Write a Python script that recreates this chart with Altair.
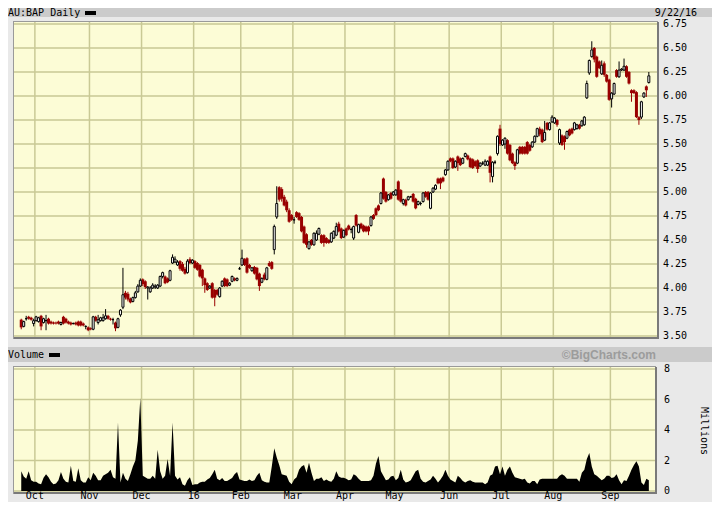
import altair as alt
import pandas as pd

# ---------------- data ----------------
# daily candles per month: (open, high, low, close)
ohlc_2015_09 = [(3.67,3.68,3.57,3.59),(3.60,3.66,3.59,3.65),(3.68,3.71,3.66,3.68),(3.70,3.71,3.67,3.68),
                (3.69,3.70,3.66,3.67),(3.63,3.68,3.60,3.66)]
ohlc_2015_10 = [(3.66,3.71,3.65,3.70),(3.65,3.70,3.64,3.69),(3.71,3.72,3.56,3.60),(3.64,3.69,3.63,3.68),
                (3.66,3.72,3.56,3.66),(3.68,3.69,3.62,3.63),(3.65,3.66,3.62,3.63),(3.64,3.65,3.62,3.63),
                (3.64,3.65,3.62,3.63),(3.65,3.66,3.62,3.63),(3.62,3.65,3.61,3.64),(3.70,3.71,3.62,3.63),
                (3.68,3.69,3.63,3.64),(3.65,3.66,3.62,3.63),(3.64,3.65,3.61,3.62),(3.63,3.64,3.62,3.63),
                (3.64,3.65,3.61,3.62),(3.65,3.66,3.60,3.61),(3.65,3.66,3.60,3.61),(3.63,3.64,3.60,3.61),
                (3.60,3.61,3.57,3.60),(3.59,3.60,3.55,3.56)]
ohlc_2015_11 = [(3.58,3.59,3.56,3.57),(3.57,3.71,3.56,3.70),(3.70,3.71,3.65,3.66),(3.64,3.72,3.62,3.67),
                (3.66,3.70,3.65,3.69),(3.66,3.73,3.65,3.69),(3.68,3.78,3.67,3.71),(3.71,3.72,3.67,3.68),
                (3.68,3.69,3.66,3.67),(3.67,3.69,3.62,3.67),(3.64,3.65,3.55,3.58),(3.59,3.69,3.58,3.68),
                (3.72,3.78,3.70,3.77),(3.80,4.21,3.78,3.93),(3.95,3.97,3.88,3.90),(3.94,3.96,3.86,3.88),
                (3.89,3.90,3.84,3.85),(3.86,3.91,3.85,3.90),(3.90,3.97,3.89,3.95),(3.96,4.04,3.95,4.02),
                (4.02,4.10,4.01,4.08)]
ohlc_2015_12 = [(4.09,4.10,4.02,4.04),(4.07,4.08,3.99,4.01),(4.00,4.02,3.88,4.01),(3.96,4.02,3.95,4.00),
                (4.00,4.05,3.99,4.03),(4.01,4.04,3.99,4.02),(4.00,4.04,3.99,4.03),(4.02,4.13,4.01,4.12),
                (4.12,4.17,4.10,4.16),(4.12,4.13,4.04,4.05),(4.10,4.11,4.05,4.06),(4.08,4.19,4.07,4.18),
                (4.26,4.35,4.25,4.32),(4.27,4.33,4.26,4.30),(4.24,4.29,4.23,4.27),(4.28,4.29,4.18,4.20),
                (4.25,4.27,4.17,4.18),(4.20,4.22,4.14,4.15),(4.16,4.30,4.15,4.28),(4.30,4.32,4.25,4.26),
                (4.26,4.30,4.25,4.29)]
ohlc_2016_01 = [(4.28,4.29,4.20,4.21),(4.26,4.27,4.18,4.19),(4.24,4.25,4.11,4.12),(4.19,4.20,4.02,4.10),
                (4.10,4.11,3.95,4.03),(4.05,4.06,3.97,3.98),(4.00,4.03,3.99,4.02),(4.05,4.06,3.89,3.90),
                (3.98,3.99,3.81,3.90),(3.98,3.99,3.92,3.93),(3.91,4.01,3.90,4.00),(4.02,4.08,4.01,4.07),
                (4.10,4.11,4.01,4.02),(4.09,4.10,4.01,4.02),(4.03,4.06,4.02,4.05),(4.07,4.13,4.06,4.12),
                (4.10,4.11,4.07,4.08),(4.08,4.11,4.07,4.10),(4.20,4.22,4.19,4.20)]
ohlc_2016_02 = [(4.24,4.40,4.23,4.31),(4.30,4.31,4.23,4.24),(4.31,4.32,4.15,4.16),(4.24,4.25,4.20,4.21),
                (4.18,4.22,4.17,4.21),(4.22,4.23,4.14,4.15),(4.21,4.22,4.08,4.09),(4.15,4.16,3.97,4.02),
                (4.06,4.11,4.05,4.10),(4.14,4.16,4.08,4.09),(4.09,4.22,4.08,4.21),(4.26,4.28,4.22,4.23),
                (4.27,4.28,4.19,4.20),(4.40,4.66,4.35,4.64),(4.74,5.06,4.72,4.88),(5.05,5.06,4.90,4.92),
                (5.03,5.05,4.90,4.93),(4.95,4.97,4.85,4.86),(4.90,4.92,4.79,4.81),(4.81,4.83,4.68,4.69),
                (4.76,4.77,4.70,4.71)]
ohlc_2016_03 = [(4.71,4.74,4.67,4.71),(4.79,4.80,4.73,4.74),(4.78,4.79,4.70,4.71),(4.74,4.75,4.58,4.59),
                (4.64,4.65,4.46,4.47),(4.56,4.57,4.42,4.45),(4.41,4.49,4.40,4.48),(4.50,4.51,4.44,4.45),
                (4.45,4.58,4.44,4.57),(4.50,4.60,4.49,4.57),(4.56,4.63,4.55,4.62),(4.55,4.56,4.46,4.47),
                (4.55,4.56,4.43,4.47),(4.52,4.53,4.46,4.47),(4.50,4.51,4.46,4.47),(4.48,4.58,4.47,4.57),
                (4.52,4.60,4.51,4.59),(4.55,4.68,4.54,4.64),(4.67,4.69,4.58,4.59),(4.62,4.63,4.51,4.52),
                (4.53,4.61,4.52,4.60)]
ohlc_2016_04 = [(4.62,4.63,4.54,4.55),(4.65,4.66,4.60,4.61),(4.61,4.63,4.57,4.61),(4.52,4.65,4.50,4.64),
                (4.76,4.77,4.64,4.65),(4.58,4.67,4.57,4.66),(4.67,4.68,4.61,4.62),(4.65,4.66,4.58,4.59),
                (4.64,4.65,4.58,4.59),(4.64,4.65,4.55,4.59),(4.65,4.75,4.64,4.74),(4.76,4.77,4.71,4.72),
                (4.83,4.84,4.75,4.76),(4.86,4.87,4.80,4.81),(4.88,5.00,4.87,4.99),(5.14,5.15,4.92,4.93),
                (5.00,5.01,4.89,4.90),(4.92,4.98,4.91,4.97),(4.99,5.00,4.92,4.93),(4.97,5.01,4.96,5.00)]
ohlc_2016_05 = [(4.97,5.03,4.96,5.02),(5.11,5.12,4.91,4.92),(5.02,5.03,4.89,4.90),(4.88,4.93,4.86,4.92),
                (4.92,4.93,4.85,4.86),(4.92,4.96,4.91,4.95),(4.95,4.96,4.94,4.95),(4.98,4.99,4.89,4.90),
                (4.93,4.94,4.82,4.83),(4.87,4.91,4.86,4.90),(4.88,4.90,4.86,4.88),(4.90,5.00,4.89,4.99),
                (5.00,5.01,4.94,4.95),(5.00,5.01,4.91,4.92),(4.83,5.00,4.82,4.99),(5.00,5.05,4.99,5.04),
                (5.03,5.08,5.02,5.07),(5.14,5.15,5.08,5.09),(5.14,5.15,5.03,5.09),(5.15,5.16,5.10,5.11),
                (5.18,5.24,5.17,5.23),(5.23,5.33,5.22,5.32)]
ohlc_2016_06 = [(5.35,5.36,5.31,5.32),(5.35,5.36,5.24,5.25),(5.26,5.33,5.25,5.32),(5.37,5.38,5.22,5.30),
                (5.35,5.36,5.27,5.28),(5.30,5.36,5.29,5.35),(5.37,5.41,5.36,5.40),(5.38,5.39,5.33,5.34),
                (5.35,5.36,5.25,5.26),(5.34,5.35,5.24,5.25),(5.32,5.33,5.26,5.27),(5.33,5.34,5.20,5.24),
                (5.27,5.31,5.26,5.30),(5.30,5.32,5.28,5.30),(5.28,5.34,5.27,5.32),(5.28,5.33,5.27,5.32),
                (5.37,5.38,5.10,5.20),(5.16,5.32,5.10,5.31),(5.31,5.33,5.29,5.31),(5.40,5.59,5.38,5.58),
                (5.66,5.70,5.48,5.50)]
ohlc_2016_07 = [(5.49,5.55,5.48,5.54),(5.50,5.57,5.45,5.56),(5.54,5.55,5.39,5.40),(5.49,5.50,5.32,5.33),
                (5.40,5.41,5.29,5.30),(5.31,5.32,5.23,5.27),(5.30,5.45,5.29,5.44),(5.47,5.48,5.39,5.40),
                (5.47,5.48,5.39,5.40),(5.47,5.48,5.39,5.40),(5.52,5.53,5.39,5.40),(5.49,5.50,5.42,5.43),
                (5.47,5.53,5.46,5.52),(5.52,5.59,5.51,5.58),(5.58,5.67,5.57,5.66),(5.66,5.68,5.58,5.60),
                (5.65,5.66,5.51,5.52),(5.54,5.74,5.53,5.62),(5.72,5.73,5.64,5.65),(5.65,5.73,5.64,5.72),
                (5.73,5.80,5.72,5.78)]
ohlc_2016_08 = [(5.72,5.78,5.71,5.77),(5.75,5.76,5.68,5.70),(5.51,5.66,5.49,5.65),(5.59,5.60,5.48,5.49),
                (5.58,5.59,5.44,5.52),(5.56,5.64,5.55,5.63),(5.65,5.66,5.58,5.59),(5.66,5.67,5.60,5.61),
                (5.65,5.73,5.64,5.72),(5.66,5.71,5.65,5.70),(5.70,5.71,5.65,5.66),(5.69,5.75,5.68,5.74),
                (5.70,5.79,5.69,5.78),(5.98,6.16,5.97,6.13),(6.24,6.38,6.22,6.37),(6.41,6.57,6.40,6.48),
                (6.50,6.51,6.35,6.38),(6.41,6.42,6.19,6.20),(6.36,6.37,6.28,6.29),(6.23,6.37,6.22,6.32),
                (6.34,6.36,6.20,6.22),(6.22,6.23,6.14,6.15),(6.17,6.18,5.95,5.96)]
ohlc_2016_09 = [(5.97,6.04,5.88,6.03),(6.02,6.14,6.01,6.13),(6.27,6.28,6.19,6.20),(6.20,6.36,6.19,6.27),
                (6.27,6.29,6.26,6.28),(6.27,6.39,6.26,6.31),(6.31,6.32,6.19,6.20),(6.25,6.26,6.12,6.13),
                (6.06,6.07,5.94,6.03),(6.06,6.07,6.02,6.03),(6.04,6.05,5.77,5.78),(5.78,5.79,5.70,5.75),
                (5.78,5.95,5.76,5.94),(5.99,6.04,5.98,6.03),(6.10,6.11,5.99,6.06),(6.14,6.25,6.13,6.21)]

# daily volume per month, millions of shares
vol_2015_09 = [1.30, 0.95, 0.80, 1.30, 0.70, 0.60]
vol_2015_10 = [0.60, 0.50, 0.45, 0.87, 1.10, 0.90, 0.60, 0.45, 0.50, 0.70, 1.25, 0.80, 0.60, 0.55, 1.65,
               0.65, 0.60, 1.50, 0.70, 0.55, 0.55, 0.90]
vol_2015_11 = [0.70, 1.20, 1.00, 0.70, 0.70, 1.00, 1.10, 1.20, 1.40, 0.90, 0.80, 4.50, 0.55, 1.20, 0.80,
               0.65, 1.10, 1.60, 2.00, 3.30, 6.10]
vol_2015_12 = [1.00, 0.90, 0.80, 0.80, 1.00, 0.80, 2.70, 1.30, 0.80, 1.00, 2.10, 1.00, 4.50, 1.00, 0.75,
               0.90, 0.45, 0.35, 0.70, 0.90, 0.40]
vol_2016_01 = [0.45, 0.45, 0.55, 0.60, 0.60, 0.75, 0.85, 1.10, 1.40, 0.80, 0.70, 0.85, 0.65, 0.65, 0.75,
               0.85, 1.10, 1.25, 0.75]
vol_2016_02 = [0.70, 0.65, 0.65, 0.75, 0.65, 0.70, 1.00, 1.20, 0.70, 0.60, 0.55, 0.55, 1.60, 2.80, 2.20,
               1.70, 1.10, 1.05, 1.00, 0.60, 0.45]
vol_2016_03 = [0.75, 0.90, 1.40, 1.60, 1.70, 1.20, 1.85, 1.20, 0.65, 0.80, 0.80, 0.90, 0.65, 0.75, 0.65,
               0.60, 0.80, 1.30, 0.95, 0.87, 0.87]
vol_2016_04 = [0.80, 0.70, 0.75, 1.10, 1.00, 0.80, 0.65, 0.65, 0.65, 0.65, 0.70, 1.00, 1.80, 2.30, 1.30,
               1.00, 0.70, 0.75, 0.95, 1.00]
vol_2016_05 = [0.70, 0.85, 1.40, 0.75, 0.55, 0.60, 0.70, 1.00, 1.30, 1.40, 0.80, 0.60, 0.55, 0.65, 0.75,
               1.00, 0.80, 0.55, 0.75, 1.00, 1.40, 1.00]
vol_2016_06 = [0.75, 0.65, 0.55, 1.00, 0.85, 0.65, 0.55, 0.65, 0.70, 0.60, 0.55, 0.55, 0.55, 0.55, 0.45,
               0.55, 1.00, 1.10, 1.60, 1.65, 1.10]
vol_2016_07 = [1.60, 1.00, 1.40, 1.60, 1.20, 0.90, 0.85, 0.80, 0.75, 0.80, 0.55, 0.50, 0.65, 0.65, 0.45,
               0.75, 0.80, 0.80, 0.80, 0.80, 0.80]
vol_2016_08 = [0.80, 0.80, 1.00, 1.10, 1.00, 0.80, 0.80, 0.80, 0.80, 0.80, 0.60, 1.20, 1.40, 2.10, 2.50,
               1.60, 1.10, 1.00, 0.85, 0.70, 0.80, 1.00, 1.00]
vol_2016_09 = [0.85, 0.90, 1.10, 0.70, 0.45, 0.70, 0.65, 1.00, 1.40, 1.70, 1.95, 1.60, 0.55, 0.40, 0.80,
               0.70]

month_keys = ["2015-09", "2015-10", "2015-11", "2015-12", "2016-01", "2016-02", "2016-03",
              "2016-04", "2016-05", "2016-06", "2016-07", "2016-08", "2016-09"]
month_labels = ["Oct", "Nov", "Dec", "16", "Feb", "Mar", "Apr", "May", "Jun", "Jul", "Aug", "Sep"]
price_ticks = [3.50, 3.75, 4.00, 4.25, 4.50, 4.75, 5.00, 5.25, 5.50, 5.75, 6.00, 6.25, 6.50, 6.75]
vol_ticks = [0, 2, 4, 6, 8]
asx_holidays = ["2015-12-25", "2015-12-28", "2016-01-01", "2016-01-26", "2016-03-25",
                "2016-03-28", "2016-04-25", "2016-06-13"]

ohlc_by_month = [ohlc_2015_09, ohlc_2015_10, ohlc_2015_11, ohlc_2015_12, ohlc_2016_01, ohlc_2016_02,
                 ohlc_2016_03, ohlc_2016_04, ohlc_2016_05, ohlc_2016_06, ohlc_2016_07, ohlc_2016_08,
                 ohlc_2016_09]
vol_by_month = [vol_2015_09, vol_2015_10, vol_2015_11, vol_2015_12, vol_2016_01, vol_2016_02,
                vol_2016_03, vol_2016_04, vol_2016_05, vol_2016_06, vol_2016_07, vol_2016_08,
                vol_2016_09]

# ---------------- table ----------------
days = pd.bdate_range("2015-09-23", "2016-09-22")
days = days[~days.isin(pd.to_datetime(asx_holidays))]

rows, month_start = [], []
i = 0
for key, candles, vols in zip(month_keys, ohlc_by_month, vol_by_month):
    mdays = [d for d in days if d.strftime("%Y-%m") == key]
    month_start.append(i)
    for d, (o, h, l, c), v in zip(mdays, candles, vols):
        rows.append(dict(idx=i, date=d.strftime("%Y-%m-%d"), open=o, high=h, low=l, close=c,
                         vol=v, up=bool(c >= o)))
        i += 1
df = pd.DataFrame(rows)
n = len(df)
months_df = pd.DataFrame({"pos": [s - 0.5 for s in month_start[1:]], "label": month_labels})
pticks_df = pd.DataFrame({"v": price_ticks, "t": [f"{p:.2f}" for p in price_ticks]})
vticks_df = pd.DataFrame({"v": vol_ticks, "t": [str(v) for v in vol_ticks]})

# ---------------- geometry (chart coords = page coords - 8) ----------------
XS = alt.Scale(domain=[-0.5, n - 0.5], range=[7, 7 + n * 2.52], nice=False, zero=False)
PY = alt.Scale(domain=[3.5, 6.75], range=[328, 16], nice=False, zero=False)
VY = alt.Scale(domain=[0, 8], range=[483, 361], nice=False, zero=False)

BG = "#e9e9e9"
BAR = "#cbcbcb"
PANEL = "#fcfcd6"
GRID = "#c9c995"
RED = "#990000"
MONO = "DejaVu Sans Mono"

one = pd.DataFrame({"a": [0]})


def box(x, x2, y, y2, color, **kw):
    return alt.Chart(one).mark_rect(color=color, **kw).encode(
        x=alt.value(x), x2=alt.value(x2), y=alt.value(y), y2=alt.value(y2))


def label(txt, x, y, **kw):
    return alt.Chart(one).mark_text(text=txt, **kw).encode(x=alt.value(x), y=alt.value(y))


X = alt.X("idx:Q", scale=XS, axis=None)

layers = [
    # header bars and panels
    box(0, 704, 0, 9, BAR),
    box(0, 704, 339, 354, BAR),
    box(5, 650, 13, 331, "#9a9a9a"),
    box(6, 649, 14, 329, PANEL),
    box(5, 648, 358, 486, "#9a9a9a"),
    box(6, 647, 359, 484, PANEL),
    # gridlines
    alt.Chart(pticks_df).mark_rule(color=GRID, strokeWidth=1.5).encode(
        y=alt.Y("v:Q", scale=PY, axis=None), x=alt.value(6), x2=alt.value(649)),
    alt.Chart(vticks_df).mark_rule(color=GRID, strokeWidth=1.5).encode(
        y=alt.Y("v:Q", scale=VY, axis=None), x=alt.value(6), x2=alt.value(647)),
    alt.Chart(months_df).mark_rule(color=GRID, strokeWidth=1.5).encode(
        x=alt.X("pos:Q", scale=XS, axis=None), y=alt.value(14), y2=alt.value(329)),
    alt.Chart(months_df).mark_rule(color=GRID, strokeWidth=1.5).encode(
        x=alt.X("pos:Q", scale=XS, axis=None), y=alt.value(359), y2=alt.value(484)),
    # wicks
    alt.Chart(df).mark_rule(strokeWidth=1).encode(
        x=X, y=alt.Y("low:Q", scale=PY, axis=None), y2="high:Q",
        color=alt.condition("datum.up", alt.value("black"), alt.value(RED))),
    # bodies: down days filled red, up days hollow
    alt.Chart(df).transform_filter("!datum.up").mark_bar(color=RED, size=3).encode(
        x=X, y=alt.Y("open:Q", scale=PY, axis=None), y2="close:Q"),
    alt.Chart(df).transform_filter("datum.up").mark_bar(
        fill="white", stroke="black", strokeWidth=1, size=2).encode(
        x=X, y=alt.Y("open:Q", scale=PY, axis=None), y2="close:Q"),
    # volume
    alt.Chart(df).mark_area(color="black", interpolate="linear").encode(
        x=X, y=alt.Y("vol:Q", scale=VY, axis=None)),
    # panel shadows
    box(649, 651, 14, 331, "#7a7a7a"),
    box(6, 651, 329, 331, "#7a7a7a"),
    box(647, 649, 359, 486, "#7a7a7a"),
    box(6, 649, 484, 486, "#7a7a7a"),
    # axis labels
    alt.Chart(pticks_df).mark_text(font=MONO, fontSize=10, align="left", baseline="middle",
                                   color="black").encode(
        y=alt.Y("v:Q", scale=PY, axis=None), x=alt.value(655), text="t:N"),
    alt.Chart(vticks_df).mark_text(font=MONO, fontSize=10, align="left", baseline="middle",
                                   color="black").encode(
        y=alt.Y("v:Q", scale=VY, axis=None), x=alt.value(656), text="t:N"),
    alt.Chart(months_df).mark_text(font=MONO, fontSize=10, align="center", baseline="alphabetic",
                                   color="black").encode(
        x=alt.X("pos:Q", scale=XS, axis=None), y=alt.value(491), text="label:N"),
    label("Millions", 696, 423, font=MONO, fontSize=10, angle=90, align="center",
          baseline="middle", color="black"),
    # header texts
    label("AU:BAP Daily", 0, 5, font=MONO, fontSize=10, align="left", baseline="middle",
          color="black"),
    box(77, 88, 3, 7, "black"),
    label("9/22/16", 689, 5, font=MONO, fontSize=10, align="right", baseline="middle",
          color="black"),
    label("Volume", 0, 347, font=MONO, fontSize=10, align="left", baseline="middle",
          color="black"),
    box(41, 52, 345, 349, "black"),
    label("\u00a9BigCharts.com", 648, 347, font="Liberation Sans", fontSize=12, fontWeight="bold",
          align="right", baseline="middle", color="#9c9c9c"),
]

chart = alt.layer(*layers).resolve_scale(y="independent").properties(
    width=704, height=494, background=BG, padding=0, autosize=alt.AutoSizeParams(type="none")
).configure_view(stroke=None)

chart.save("out.html", embed_options={"renderer": "svg", "actions": False})
